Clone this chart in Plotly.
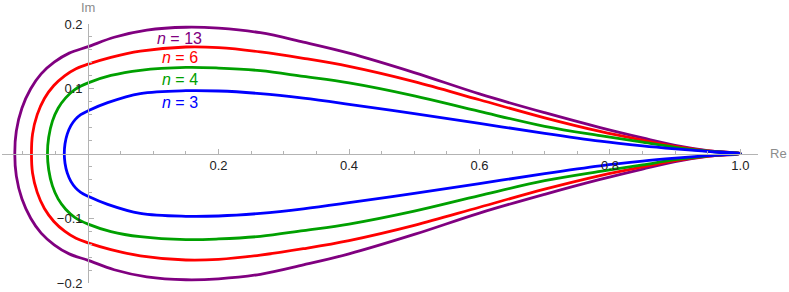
import plotly.graph_objects as go

# Upper-half samples (Re, Im) for each curve; lower half mirrors it
n13_re = [-0.1124, -0.1100, -0.1015, -0.0880, -0.0720, -0.0520, -0.0290, 0.0, 0.04, 0.09, 0.15, 0.20, 0.264, 0.33, 0.40, 0.50, 0.60, 0.70, 0.785, 0.85, 0.90, 0.95, 1.0]
n13_im = [0.0, 0.035, 0.070, 0.100, 0.123, 0.141, 0.155, 0.165, 0.1795, 0.1905, 0.195, 0.1935, 0.1865, 0.172, 0.155, 0.125, 0.092, 0.063, 0.040, 0.024, 0.0125, 0.0045, 0.0]

n6_re = [-0.0868, -0.0852, -0.0780, -0.0670, -0.0525, -0.0360, -0.0185, 0.0, 0.035, 0.08, 0.15, 0.20, 0.264, 0.33, 0.40, 0.50, 0.60, 0.70, 0.785, 0.85, 0.90, 0.95, 1.0]
n6_im = [0.0, 0.030, 0.060, 0.085, 0.105, 0.120, 0.131, 0.138, 0.1485, 0.158, 0.1645, 0.1635, 0.157, 0.147, 0.1345, 0.111, 0.083, 0.055, 0.034, 0.0205, 0.011, 0.004, 0.0]

n4_re = [-0.0623, -0.0604, -0.0547, -0.0460, -0.0344, -0.0200, 0.0, 0.035, 0.08, 0.15, 0.20, 0.264, 0.33, 0.40, 0.50, 0.60, 0.70, 0.785, 0.85, 0.90, 0.95, 1.0]
n4_im = [0.0, 0.025, 0.050, 0.070, 0.086, 0.099, 0.109, 0.1205, 0.1285, 0.133, 0.132, 0.128, 0.119, 0.109, 0.089, 0.065, 0.042, 0.0275, 0.0175, 0.0095, 0.0035, 0.0]

n3_re = [-0.0365, -0.0354, -0.0320, -0.0264, -0.0192, -0.0113, 0.0, 0.03, 0.08, 0.15, 0.20, 0.264, 0.33, 0.40, 0.50, 0.60, 0.70, 0.785, 0.85, 0.90, 0.95, 1.0]
n3_im = [0.0, 0.015, 0.030, 0.043, 0.053, 0.060, 0.066, 0.0785, 0.0925, 0.097, 0.0965, 0.0925, 0.0855, 0.076, 0.0615, 0.0465, 0.031, 0.019, 0.0118, 0.0072, 0.0032, 0.0]

labels = ["<i>n</i> = 13", "<i>n</i> = 6", "<i>n</i> = 4", "<i>n</i> = 3"]
label_re = [0.14, 0.1406, 0.1406, 0.1406]
label_im = [0.178, 0.148, 0.114, 0.079]
colors = ["#800080", "#ff0000", "#00a000", "#0000ff"]

x_tickvals = [0.2, 0.4, 0.6, 0.8, 1.0]
x_ticktext = ["0.2", "0.4", "0.6", "0.8", "1.0"]
y_tickvals = [-0.2, -0.1, 0.1, 0.2]
y_ticktext = ["\u22120.2", "\u22120.1", "0.1", "0.2"]
x_minor = [-0.1, -0.05, 0.05, 0.1, 0.15, 0.25, 0.3, 0.35, 0.45, 0.5, 0.55, 0.65, 0.7, 0.75, 0.85, 0.9, 0.95]
y_minor = [-0.18, -0.16, -0.14, -0.12, -0.08, -0.06, -0.04, -0.02, 0.02, 0.04, 0.06, 0.08, 0.12, 0.14, 0.16, 0.18]

XR = [-0.132, 1.027]
YR = [-0.2, 0.2]

fig = go.Figure()
for re, im, c in [(n13_re, n13_im, colors[0]), (n6_re, n6_im, colors[1]),
                  (n4_re, n4_im, colors[2]), (n3_re, n3_im, colors[3])]:
    xs = list(re) + list(re[::-1])[1:]
    ys = list(im) + [-v for v in im[::-1]][1:]
    fig.add_trace(go.Scatter(x=xs, y=ys, mode="lines",
                             line=dict(color=c, width=2.8, shape="spline", smoothing=1.0),
                             hoverinfo="skip", showlegend=False))

for t, xr, yi, c in zip(labels, label_re, label_im, colors):
    fig.add_annotation(x=xr, y=yi, xref="x", yref="y", text=t, showarrow=False,
                       font=dict(family="Liberation Sans, Arial", size=16, color=c))

fig.add_annotation(x=0, y=1.062, xref="x", yref="paper", text="Im", showarrow=False,
                   xanchor="center", yanchor="middle",
                   font=dict(family="Liberation Sans, Arial", size=13, color="#8c8c8c"))
fig.add_annotation(x=1.0265, y=0, xref="paper", yref="y", text="Re", showarrow=False,
                   xanchor="center", yanchor="middle",
                   font=dict(family="Liberation Sans, Arial", size=13, color="#8c8c8c"))

ypos = (0 - XR[0]) / (XR[1] - XR[0])
xpos = (0 - YR[0]) / (YR[1] - YR[0])

axis_font = dict(family="Liberation Sans, Arial", size=13, color="#222222")
fig.update_layout(
    width=789, height=292,
    margin=dict(l=2, r=31, t=24, b=9),
    paper_bgcolor="white", plot_bgcolor="white",
    xaxis=dict(range=XR, anchor="free", position=xpos, showgrid=False, zeroline=False,
               showline=True, linecolor="#b3b3b3", linewidth=1,
               tickmode="array", tickvals=x_tickvals, ticktext=x_ticktext,
               ticks="inside", ticklen=5, tickcolor="#b3b3b3", tickwidth=1,
               tickfont=axis_font, automargin=False,
               minor=dict(tickmode="array", tickvals=x_minor, ticks="inside", ticklen=3,
                          tickcolor="#b3b3b3", showgrid=False)),
    yaxis=dict(range=YR, anchor="free", position=ypos, showgrid=False, zeroline=False,
               showline=True, linecolor="#b3b3b3", linewidth=1,
               tickmode="array", tickvals=y_tickvals, ticktext=y_ticktext,
               ticks="inside", ticklen=5, tickcolor="#b3b3b3", tickwidth=1,
               tickfont=axis_font, automargin=False, ticklabelstandoff=3,
               minor=dict(tickmode="array", tickvals=y_minor, ticks="inside", ticklen=3,
                          tickcolor="#b3b3b3", showgrid=False)),
)

fig.write_html("out.html", config={"displayModeBar": False},
               post_script="document.body.style.margin='0px';")
